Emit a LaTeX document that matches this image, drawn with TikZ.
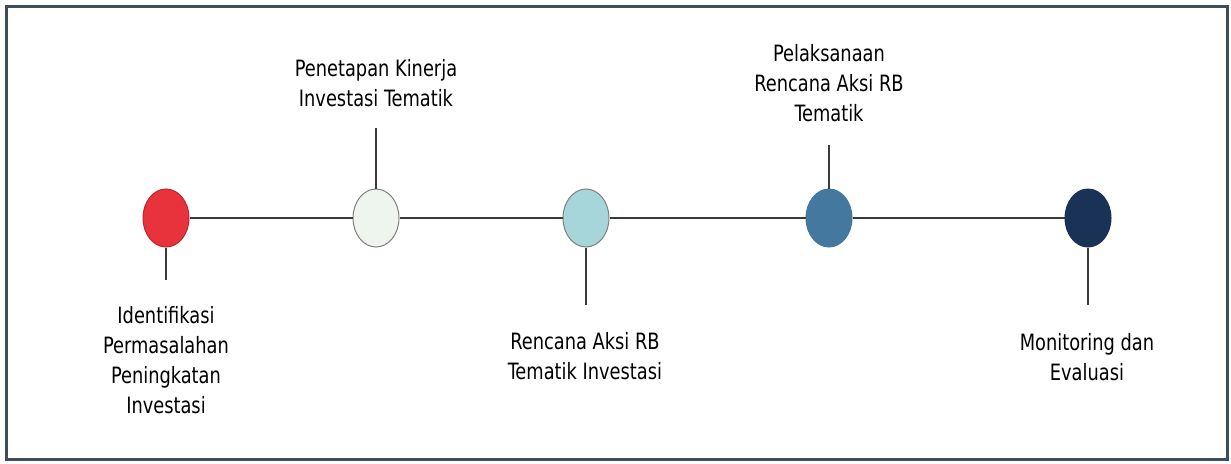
\documentclass[tikz,border=0pt]{standalone}
\usepackage{fontspec}
\setmainfont{DejaVu Sans Condensed}[FakeStretch=0.88]
\usepackage{tikz}
\usetikzlibrary{shapes.geometric}
\definecolor{frame}{HTML}{3E4D5E}
\definecolor{linegray}{HTML}{3A3A3A}
\definecolor{stepred}{HTML}{E8323C}
\definecolor{stepmint}{HTML}{EEF5EE}
\definecolor{stepaqua}{HTML}{A6D6DA}
\definecolor{stepsteel}{HTML}{44789F}
\definecolor{stepnavy}{HTML}{1B3257}

\begin{document}
\begin{tikzpicture}[x=1pt,y=-1pt,
    dot/.style={ellipse,minimum width=46pt,minimum height=58pt,inner sep=0pt,line width=1pt},
    lbl/.style={align=center,font=\fontsize{22.5}{30}\selectfont,text=black},
    conn/.style={draw=linegray,line width=1.4pt}]
    \useasboundingbox (0,0) rectangle (1231,463);
    \draw[frame,line width=3pt] (6,6) rectangle (1227,459);
    \node[dot,fill=stepred,draw=stepred!80!black] (identifikasi) at (166,218) {};
    \node[dot,fill=stepmint,draw=gray] (penetapan) at (376,218) {};
    \node[dot,fill=stepaqua,draw=gray] (rencana) at (586,218) {};
    \node[dot,fill=stepsteel,draw=stepsteel] (pelaksanaan) at (829,218) {};
    \node[dot,fill=stepnavy,draw=stepnavy] (monitoring) at (1088,218) {};
    \draw[conn] (identifikasi) -- (penetapan);
    \draw[conn] (penetapan) -- (rencana);
    \draw[conn] (rencana) -- (pelaksanaan);
    \draw[conn] (pelaksanaan) -- (monitoring);
    \coordinate (identifikasi-end) at (166,280);
    \coordinate (penetapan-end) at (376,128);
    \coordinate (rencana-end) at (586,305);
    \coordinate (pelaksanaan-end) at (829,145);
    \coordinate (monitoring-end) at (1088,305);
    \draw[conn] (identifikasi) -- (identifikasi-end);
    \draw[conn] (penetapan) -- (penetapan-end);
    \draw[conn] (rencana) -- (rencana-end);
    \draw[conn] (pelaksanaan) -- (pelaksanaan-end);
    \draw[conn] (monitoring) -- (monitoring-end);
    \node[lbl] (identifikasi-text) at (166,360) {Identifikasi\\Permasalahan\\Peningkatan\\Investasi};
    \node[lbl] (penetapan-text) at (376,83) {Penetapan Kinerja\\Investasi Tematik};
    \node[lbl] (rencana-text) at (585,356) {Rencana Aksi RB\\Tematik Investasi};
    \node[lbl] (pelaksanaan-text) at (829,83) {Pelaksanaan\\Rencana Aksi RB\\Tematik};
    \node[lbl] (monitoring-text) at (1087,357) {Monitoring dan\\Evaluasi};
\end{tikzpicture}
\end{document}
